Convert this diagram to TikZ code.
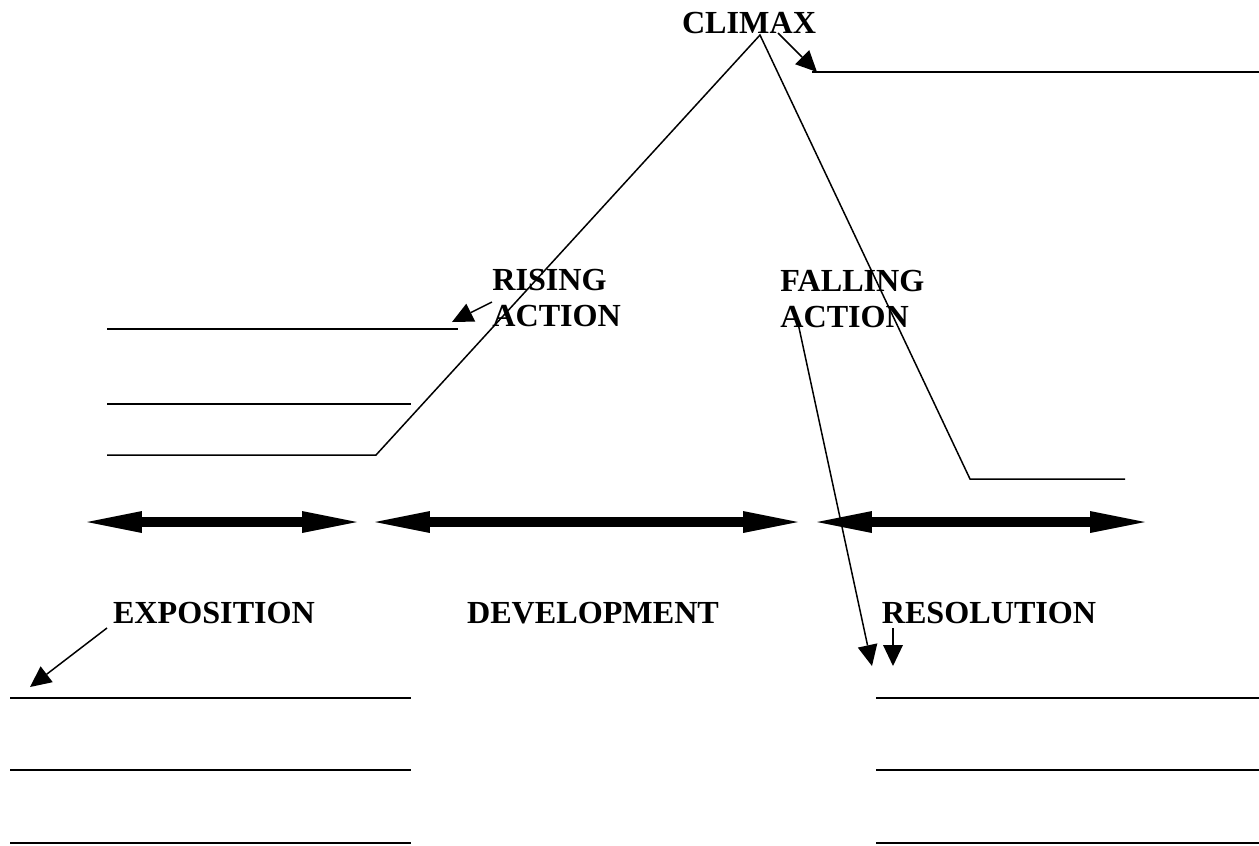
\documentclass[tikz,border=0pt]{standalone}
\usepackage{fontspec}
\setmainfont{Liberation Serif}
\usetikzlibrary{arrows.meta}

\begin{document}
\begin{tikzpicture}[
    x=0.02cm, y=-0.02cm,
    lbl/.style={font=\fontsize{18.3}{20.4}\selectfont\bfseries, inner sep=0pt, align=left},
    plot/.style={draw=black, line width=0.85pt, line join=miter},
    blank/.style={draw=black, line width=1.1pt},
    ptr/.style={draw=black, line width=0.85pt,
                -{Triangle[length=0.42cm, width=0.4cm, line width=0pt]}},
    span/.style={draw=black, line width=0.21cm,
                 {Triangle[length=1.1cm, width=0.44cm, line width=0pt]}-{Triangle[length=1.1cm, width=0.44cm, line width=0pt]}},
]
\useasboundingbox (0,0) rectangle (1259,846);

% Plot line
\coordinate (start) at (107,455);
\coordinate (knee1) at (376,455);
\coordinate (peak) at (760,35);
\coordinate (knee2) at (970,479);
\coordinate (end) at (1125,479);
\draw[plot] (start) -- (knee1) -- (peak) -- (knee2) -- (end);

% Labels
\node[lbl] (climax) at (749,23) {CLIMAX};
\node[lbl, anchor=west] (rising) at (492,298) {RISING\\ACTION};
\node[lbl, anchor=west] (falling) at (780,299) {FALLING\\ACTION};
\node[lbl] (expo) at (214,613) {EXPOSITION};
\node[lbl] (devel) at (593,613) {DEVELOPMENT};
\node[lbl] (resol) at (989,613) {RESOLUTION};

% Blanks
\draw[blank] (812,72) -- (1259,72);
\draw[blank] (107,329) -- (458,329);
\draw[blank] (107,404) -- (411,404);
\foreach \y in {698,770,843} {
    \draw[blank] (10,\y) -- (411,\y);
    \draw[blank] (876,\y) -- (1259,\y);
}

% Pointers
\coordinate (climaxtail) at (778,33);
\coordinate (climaxtip) at (817,72);
\coordinate (risingtail) at (492,302);
\coordinate (risingtip) at (452,322);
\coordinate (fallingtail) at (798,323);
\coordinate (fallingtip) at (872,666);
\coordinate (resoltail) at (893,628);
\coordinate (resoltip) at (893,666);
\coordinate (expotail) at (107,628);
\coordinate (expotip) at (30,687);
\draw[ptr] (climaxtail) -- (climaxtip);
\draw[ptr] (risingtail) -- (risingtip);
\draw[ptr] (fallingtail) -- (fallingtip);
\draw[ptr] (resoltail) -- (resoltip);
\draw[ptr] (expotail) -- (expotip);

% Spans
\coordinate (s1a) at (87,522);
\coordinate (s1b) at (357,522);
\coordinate (s2a) at (375,522);
\coordinate (s2b) at (798,522);
\coordinate (s3a) at (817,522);
\coordinate (s3b) at (1145,522);
\draw[span] (s1a) -- (s1b);
\draw[span] (s2a) -- (s2b);
\draw[span] (s3a) -- (s3b);

\end{tikzpicture}
\end{document}
